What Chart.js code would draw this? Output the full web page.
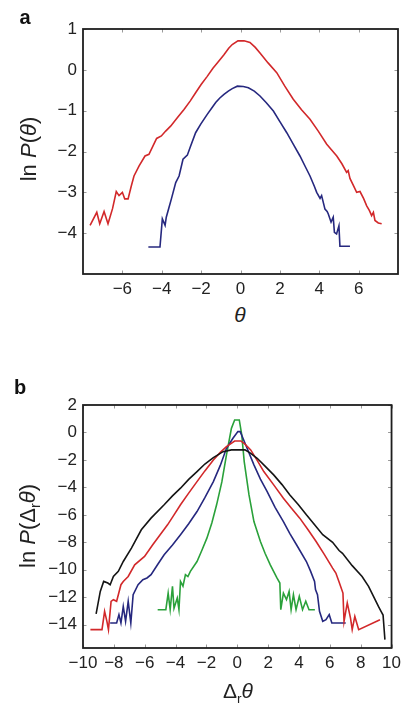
<!DOCTYPE html>
<html>
<head>
<meta charset="utf-8">
<script src="https://cdn.jsdelivr.net/npm/chart.js@4.4.1/dist/chart.umd.min.js"></script>
<style>
  html, body { margin:0; padding:0; background:#fff; width:406px; height:703px; overflow:hidden; }
  body { position:relative; font-family:"Liberation Sans", Arial, Helvetica, sans-serif; color:#222; }
  .wrap { position:absolute; left:0; width:406px; height:300px; }
  .lbl { position:absolute; white-space:nowrap; transform:translate(-50%,-50%); font-size:22px; color:#222; }
  .rot { transform:translate(-50%,-50%) rotate(-90deg); }
  .panel { position:absolute; font-weight:bold; font-size:20px; color:#111; transform:translate(-50%,-50%); }
  sub { font-size:65%; vertical-align:-0.35em; line-height:0; }
</style>
</head>
<body>
<div class="wrap" style="top:0"><canvas id="ca" width="406" height="300"></canvas></div>
<div class="wrap" style="top:380px"><canvas id="cb" width="406" height="300"></canvas></div>

<div class="panel" style="left:25px;top:17px">a</div>
<div class="panel" style="left:20px;top:387px">b</div>
<div class="lbl rot" style="left:29px;top:149px">ln <i>P</i>(<i>θ</i>)</div>
<div class="lbl" style="left:240px;top:315px;font-size:21px"><i>θ</i></div>
<div class="lbl rot" style="left:28px;top:526px">ln <i>P</i>(Δ<sub>r</sub><i>θ</i>)</div>
<div class="lbl" style="left:238px;top:691px;font-size:21px">Δ<sub>r</sub><i>θ</i></div>

<script>
// ---------- Panel a data ----------
const aXTicks = [-6, -4, -2, 0, 2, 4, 6];
const aYTicks = [1, 0, -1, -2, -3, -4];

const aRedX = [-7.64,-7.30,-7.15,-6.93,-6.73,-6.50,-6.31,-6.17,-6.00,-5.88,-5.71,-5.55,-5.41,-5.15,-4.85,-4.65,-4.48,-4.26,-4.02,-3.80,-3.55,-3.20,-2.87,-2.55,-2.28,-2.00,-1.69,-1.40,-1.18,-0.84,-0.60,-0.42,-0.13,0.18,0.48,0.75,0.99,1.40,1.84,2.25,2.68,3.10,3.53,3.95,4.38,4.89,5.15,5.39,5.47,5.56,5.75,5.90,6.07,6.25,6.41,6.55,6.66,6.75,6.83,7.00,7.17];
const aRedY = [-3.81,-3.49,-3.77,-3.47,-3.77,-3.40,-2.98,-3.08,-3.00,-3.16,-3.16,-2.85,-2.60,-2.35,-2.11,-2.07,-1.90,-1.68,-1.62,-1.50,-1.38,-1.17,-0.97,-0.76,-0.56,-0.36,-0.16,0.04,0.17,0.37,0.53,0.62,0.71,0.71,0.67,0.55,0.41,0.17,-0.07,-0.40,-0.72,-0.98,-1.21,-1.50,-1.82,-2.11,-2.30,-2.51,-2.47,-2.66,-2.85,-3.00,-2.98,-3.15,-3.33,-3.45,-3.57,-3.49,-3.69,-3.75,-3.77];

const aBlueX = [-4.68,-4.09,-3.97,-3.83,-3.77,-3.65,-3.51,-3.29,-3.12,-2.92,-2.70,-2.56,-2.28,-2.02,-1.69,-1.45,-1.26,-1.05,-0.84,-0.62,-0.42,-0.16,0.14,0.40,0.70,0.99,1.30,1.67,2.00,2.35,2.70,3.02,3.30,3.53,3.75,3.87,4.04,4.12,4.29,4.40,4.46,4.60,4.71,4.77,4.88,5.00,5.05,5.56];
const aBlueY = [-4.34,-4.34,-3.65,-3.81,-3.61,-3.40,-3.16,-2.76,-2.60,-2.19,-2.09,-1.90,-1.54,-1.33,-1.09,-0.93,-0.80,-0.69,-0.60,-0.52,-0.46,-0.40,-0.41,-0.44,-0.52,-0.64,-0.80,-1.01,-1.27,-1.54,-1.84,-2.11,-2.38,-2.60,-2.85,-3.00,-3.15,-3.08,-3.41,-3.47,-3.53,-3.73,-3.61,-3.98,-4.02,-3.82,-4.32,-4.32];

// ---------- Panel b data ----------
const bXTicks = [-10, -8, -6, -4, -2, 0, 2, 4, 6, 8, 10];
const bYTicks = [2, 0, -2, -4, -6, -8, -10, -12, -14];

const bBlackX = [-9.15,-8.88,-8.66,-8.39,-8.24,-8.03,-7.71,-7.39,-6.86,-6.22,-5.59,-4.74,-4.20,-3.68,-3.15,-2.61,-2.10,-1.55,-0.92,-0.38,0.50,0.85,1.29,1.80,2.36,2.90,3.41,3.95,4.48,5.00,5.54,6.18,6.60,6.82,7.45,8.09,8.51,8.83,9.15,9.32,9.45,9.57];
const bBlackY = [-13.22,-11.58,-10.85,-10.97,-11.09,-10.49,-10.12,-9.40,-8.42,-7.09,-6.24,-5.27,-4.62,-4.06,-3.42,-2.85,-2.30,-1.83,-1.40,-1.27,-1.27,-1.50,-1.88,-2.45,-3.09,-3.80,-4.55,-5.25,-6.00,-6.70,-7.45,-8.00,-8.60,-8.80,-9.70,-10.49,-11.21,-11.94,-12.67,-13.03,-13.30,-15.09];

const bRedX = [-9.52,-8.77,-8.60,-8.45,-8.35,-8.18,-8.03,-7.82,-7.54,-7.39,-7.07,-6.65,-6.01,-5.48,-5.00,-4.52,-4.10,-3.68,-3.15,-2.61,-2.10,-1.55,-1.10,-0.70,-0.17,0.23,0.50,0.87,1.30,1.72,2.35,2.99,3.50,4.05,4.60,5.11,5.65,6.18,6.39,6.60,6.85,6.92,7.13,7.34,7.45,7.62,7.87,9.25];
const bRedY = [-14.36,-14.36,-13.03,-13.76,-14.36,-12.30,-12.18,-12.30,-11.09,-10.85,-10.49,-9.64,-9.03,-8.18,-7.45,-6.73,-6.00,-5.27,-4.42,-3.58,-2.80,-2.00,-1.45,-1.03,-0.62,-0.62,-0.85,-1.27,-2.05,-2.85,-3.80,-4.79,-5.50,-6.24,-7.10,-7.94,-8.90,-9.88,-10.24,-10.90,-11.70,-13.76,-12.42,-13.52,-14.36,-13.40,-14.36,-13.64];

const bBlueX = [-8.24,-7.82,-7.67,-7.54,-7.39,-7.24,-7.07,-6.90,-6.75,-6.43,-6.12,-5.85,-5.59,-5.15,-4.74,-4.20,-3.68,-3.15,-2.61,-2.10,-1.55,-1.10,-0.70,-0.28,0.04,0.19,0.55,1.08,1.50,1.93,2.45,2.99,3.40,3.84,4.48,4.75,5.01,5.07,5.20,5.33,5.54,5.75,5.96,6.13,7.03];
const bBlueY = [-13.88,-13.88,-13.27,-13.88,-12.67,-13.76,-12.30,-13.88,-11.82,-11.09,-10.73,-10.60,-10.36,-9.60,-8.91,-8.20,-7.45,-6.65,-5.76,-4.75,-3.58,-2.40,-1.15,-0.42,0.06,0.06,-0.91,-2.36,-3.40,-4.30,-5.45,-6.49,-7.35,-8.18,-9.40,-10.10,-10.85,-11.45,-11.82,-13.03,-13.76,-13.64,-13.27,-13.88,-13.88];

const bGreenX = [-5.16,-4.63,-4.48,-4.35,-4.20,-4.10,-3.89,-3.78,-3.68,-3.52,-3.36,-3.20,-3.04,-2.61,-2.30,-1.97,-1.65,-1.34,-1.00,-0.70,-0.38,-0.17,0.13,0.29,0.45,0.76,1.08,1.50,1.80,2.14,2.57,2.76,2.82,2.99,3.19,3.36,3.49,3.64,3.81,4.02,4.23,4.44,4.65,5.03];
const bGreenY = [-12.91,-12.91,-11.70,-12.90,-11.21,-12.80,-12.06,-12.90,-10.85,-11.20,-10.36,-10.50,-10.12,-9.40,-8.60,-7.70,-6.60,-5.27,-3.60,-1.64,0.30,0.91,0.91,-0.18,-2.12,-4.55,-6.49,-7.94,-8.80,-9.64,-10.60,-10.97,-12.91,-11.70,-12.18,-11.58,-12.91,-11.82,-12.91,-11.94,-12.91,-12.30,-12.91,-12.91];

// ---------- helpers ----------
const pts = (xs, ys) => xs.map((x, i) => ({ x: x, y: ys[i] }));
const fmt = v => (v < 0 ? '\u2212' + Math.abs(v) : String(v));
const TICKFONT = { family: '"Liberation Sans", Arial, Helvetica, sans-serif', size: 17 };

const framePlugin = {
  id: 'frame',
  afterDatasetsDraw(chart) {
    const { ctx, chartArea: a, scales } = chart;
    ctx.save();
    ctx.strokeStyle = '#9a9a9a';
    ctx.lineWidth = 1;
    const L = 3.5;
    scales.x.ticks.forEach(t => {
      const p = Math.round(scales.x.getPixelForValue(t.value)) + 0.5;
      ctx.beginPath();
      ctx.moveTo(p, a.bottom); ctx.lineTo(p, a.bottom - L);
      ctx.moveTo(p, a.top); ctx.lineTo(p, a.top + L);
      ctx.stroke();
    });
    scales.y.ticks.forEach(t => {
      const p = Math.round(scales.y.getPixelForValue(t.value)) + 0.5;
      ctx.beginPath();
      ctx.moveTo(a.left, p); ctx.lineTo(a.left + L, p);
      ctx.moveTo(a.right, p); ctx.lineTo(a.right - L, p);
      ctx.stroke();
    });
    ctx.strokeStyle = '#1e1e1e';
    ctx.lineWidth = 1.8;
    ctx.strokeRect(a.left, a.top, a.right - a.left, a.bottom - a.top);
    ctx.restore();
  }
};

function ds(data, color) {
  return { data: data, showLine: true, borderColor: color, backgroundColor: color,
           borderWidth: 1.6, pointRadius: 0, pointHoverRadius: 0, tension: 0, fill: false };
}

function makeChart(id, datasets, xr, yr, xTicks, yTicks, pad, xAxisH, yAxisW) {
  return new Chart(document.getElementById(id), {
    type: 'scatter',
    data: { datasets: datasets },
    options: {
      responsive: false, animation: false, events: [],
      layout: { padding: pad },
      plugins: { legend: { display: false }, tooltip: { enabled: false } },
      scales: {
        x: {
          type: 'linear', min: xr[0], max: xr[1],
          grid: { display: false, drawTicks: false }, border: { display: false },
          ticks: { font: TICKFONT, color: '#222', padding: 5, autoSkip: false, maxRotation: 0, callback: fmt },
          afterBuildTicks: s => { s.ticks = xTicks.map(v => ({ value: v })); },
          afterFit: s => { s.height = xAxisH; }
        },
        y: {
          type: 'linear', min: yr[0], max: yr[1],
          grid: { display: false, drawTicks: false }, border: { display: false },
          ticks: { font: TICKFONT, color: '#222', padding: 6, autoSkip: false, callback: fmt },
          afterBuildTicks: s => { s.ticks = yTicks.map(v => ({ value: v })); },
          afterFit: s => { s.width = yAxisW; }
        }
      }
    },
    plugins: [framePlugin]
  });
}

const RED = '#d2282a', BLUE = '#26287f', GREEN = '#2aa13a', BLACK = '#151515';

makeChart('ca',
  [ds(pts(aRedX, aRedY), RED), ds(pts(aBlueX, aBlueY), BLUE)],
  [-8, 8], [-5, 1], aXTicks, aYTicks,
  { top: 29, right: 8, left: 0, bottom: 0 }, 26, 83);

makeChart('cb',
  [ds(pts(bBlackX, bBlackY), BLACK), ds(pts(bRedX, bRedY), RED),
   ds(pts(bBlueX, bBlueY), BLUE), ds(pts(bGreenX, bGreenY), GREEN)],
  [-10, 10], [-15.7, 2], bXTicks, bYTicks,
  { top: 25, right: 9, left: 0, bottom: 0 }, 32, 83);
</script>
</body>
</html>
